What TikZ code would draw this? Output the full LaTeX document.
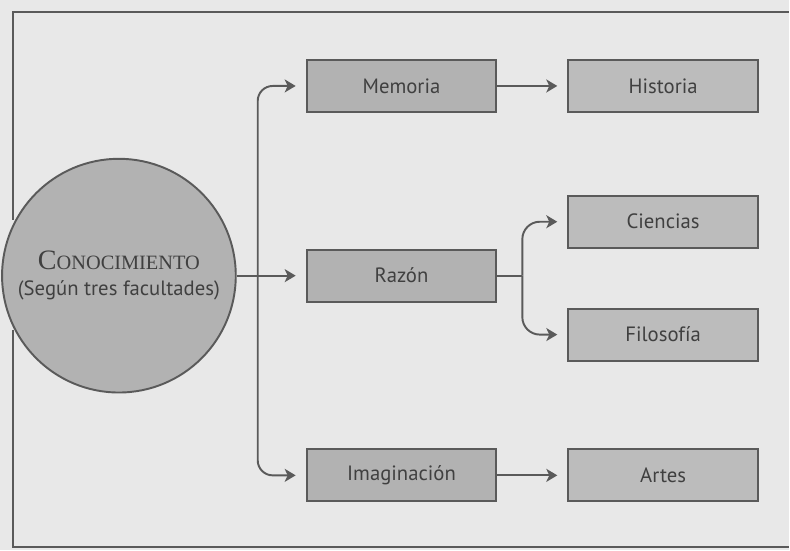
\documentclass[tikz,border=0pt]{standalone}
\usepackage{fontspec}
\setmainfont{PT Sans}
\newfontfamily\versalita{Liberation Serif}
\usepackage{xcolor}
\usetikzlibrary{arrows.meta,positioning,calc}

\definecolor{fondo}{HTML}{E8E8E8}
\definecolor{trazo}{HTML}{5A5A5A}
\definecolor{texto}{HTML}{404040}
\definecolor{grisA}{HTML}{B2B2B2}
\definecolor{grisB}{HTML}{BCBCBC}

\begin{document}
\begin{tikzpicture}[
    node distance=2.8cm and 1.4cm,
    facultad/.style={draw=trazo, line width=1.1pt, fill=grisA, minimum width=3.8cm,
                     minimum height=1.04cm, text=texto, font=\fontsize{11.8}{14}\selectfont},
    rama/.style={draw=trazo, line width=1.1pt, fill=grisB, minimum width=3.8cm,
                 minimum height=1.04cm, text=texto, font=\fontsize{11.8}{14}\selectfont},
    saber/.style={circle, draw=trazo, line width=1.1pt, fill=grisA, minimum size=4.68cm,
                  inner sep=0pt, align=center, text=texto, font=\fontsize{11.8}{14}\selectfont},
    flecha/.style={-{Stealth[length=2.2mm, width=2.6mm, inset=0.6mm]}, draw=trazo,
                   line width=1.1pt, shorten >=2mm},
    linea/.style={draw=trazo, line width=1.1pt}
]
% fondo y marco
\fill[fondo] (0,0) rectangle (15.8,11.02);
\draw[linea] (0.26,6.62) -- (0.26,10.78) -- (15.8,10.78);
\draw[linea] (0.26,4.42) -- (0.26,0.06) -- (15.8,0.06);

\node[facultad] (razon) at (8.04,5.5) {Razón};
\node[facultad, above=2.72cm of razon] (memoria) {Memoria};
\node[facultad, below=2.92cm of razon] (imaginacion) {Imaginación};

\node[saber, left=1.38cm of razon] (conoc)
    {{\versalita\fontsize{16}{16}\selectfont C\fontsize{11.6}{11.6}\selectfont ONOCIMIENTO}\\[1pt]
     (Según tres facultades)};

\node[rama, right=of memoria] (historia) {Historia};
\node[rama, right=of razon, yshift=1.08cm] (ciencias) {Ciencias};
\node[rama, right=of razon, yshift=-1.18cm] (filosofia) {Filosofía};
\node[rama, right=of imaginacion] (artes) {Artes};

\coordinate (tronco) at ($(conoc.east)+(0.42,0)$);
\coordinate (bifurca) at ($(razon.east)+(0.5,0)$);

\draw[flecha] (conoc.east) -- (razon.west);
\draw[flecha, rounded corners=3mm] (tronco) |- (memoria.west);
\draw[flecha, rounded corners=3mm] (tronco) |- (imaginacion.west);

\draw[linea] (razon.east) -- (bifurca);
\draw[flecha, rounded corners=3.5mm] (bifurca) |- (ciencias.west);
\draw[flecha, rounded corners=3.5mm] (bifurca) |- (filosofia.west);

\draw[flecha] (memoria) -- (historia);
\draw[flecha] (imaginacion) -- (artes);
\end{tikzpicture}
\end{document}
